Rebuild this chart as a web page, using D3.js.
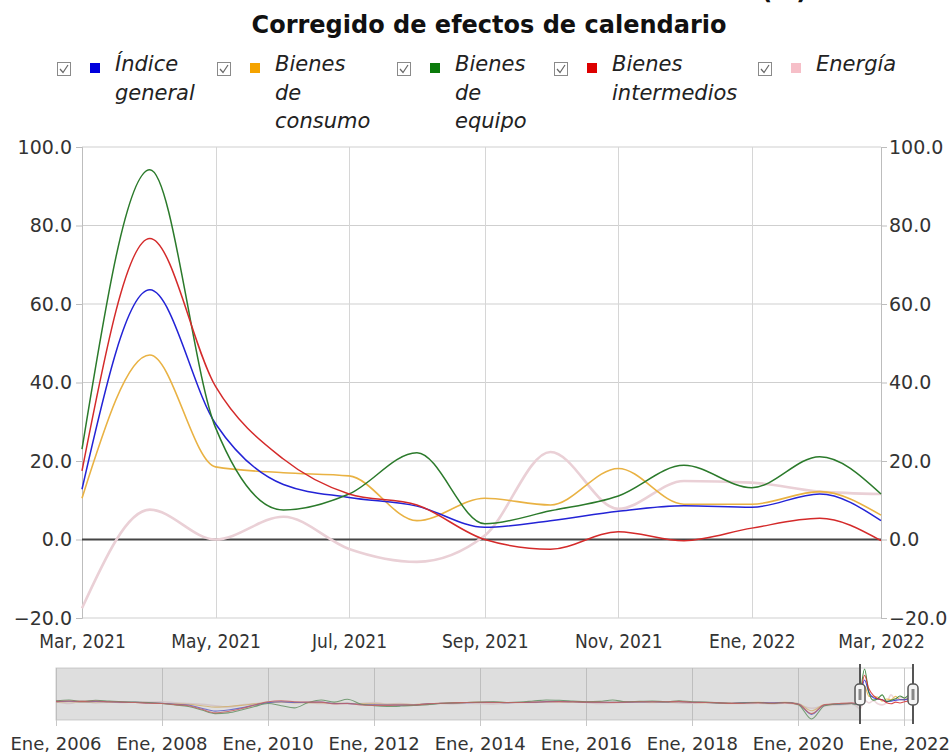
<!DOCTYPE html>
<html><head><meta charset="utf-8">
<script src="https://cdn.jsdelivr.net/npm/d3@7/dist/d3.min.js"></script>
<style>body{margin:0;background:#fff}svg{display:block}</style>
</head><body>
<svg id="c" width="952" height="754"></svg>
<script>
// ---------- DATA ----------
const seriesNames = ["Índice general","Bienes de consumo","Bienes de equipo","Bienes intermedios","Energía"];
const legendLines = [["Índice","general"],["Bienes","de","consumo"],["Bienes","de","equipo"],["Bienes","intermedios"],["Energía"]];
const months = ["2021-03","2021-04","2021-05","2021-06","2021-07","2021-08","2021-09","2021-10","2021-11","2021-12","2022-01","2022-02","2022-03"];
const indiceGeneral     = [12.8, 63.6, 29.5, 14.0, 10.7, 8.5, 3.1, 4.8, 7.2, 8.6, 8.2, 11.6, 4.8];
const bienesConsumo     = [10.5, 47.0, 18.5, 17.0, 16.2, 4.8, 10.5, 8.8, 18.1, 9.0, 9.0, 12.2, 6.2];
const bienesEquipo      = [23.0, 94.2, 28.5, 7.5, 11.6, 22.1, 4.0, 7.3, 11.1, 18.9, 13.2, 21.1, 11.6];
const bienesIntermedios = [17.5, 76.7, 39.0, 20.5, 11.6, 8.8, 0.0, -2.5, 2.0, -0.3, 2.9, 5.4, -0.3];
const energia           = [-17.5, 7.6, 0.0, 5.8, -2.4, -5.7, 1.0, 22.3, 7.8, 14.9, 14.5, 12.2, 11.6];

// history for the navigator (quarterly Ene/Abr/Jul/Oct 2006-2020, then Ene, Feb 2021)
const histDates = [];
["2006","2007","2008","2009","2010","2011","2012","2013","2014","2015","2016","2017","2018","2019","2020"].forEach(yy=>["01","04","07","10"].forEach(m=>histDates.push(yy+"-"+m)));
histDates.push("2021-01","2021-02");
const histGeneral = [3.5,4.5,3.0,4.0, 3.0,2.0,1.5,0.0, -1.0,-4.0,-6.0,-15.0, -23.0,-20.0,-14.0,-6.0, 0.5,3.0,1.0,1.5, 2.5,-2.0,-1.5,-4.5, -5.5,-6.0,-6.5,-6.0, -3.0,-1.5,-0.5,0.5, 1.0,1.5,0.5,1.0, 1.5,3.5,4.0,3.0, 2.0,1.5,1.5,2.0, 2.5,3.0,2.5,3.5, 1.5,1.0,0.0,-1.0, 0.5,1.0,0.0,1.0, -3.0,-32.0,-6.0,-3.5, -1.5,-3.0];
const histConsumo = [2,3,1.5,2.5, 2,1.5,1,0, -1,-3,-4,-8, -12,-10,-7,-3, 0.5,1.5,0,0.5, 0.5,-1.5,-1,-2.5, -3,-4,-4,-4.5, -2.5,-1,0,1, 1.5,2,0.5,1, 1,2.5,3,2, 2,1,2,2.5, 1.5,2,1.5,2.5, 1,0.5,-0.5,-0.5, 1,1.5,0.5,1.5, -2,-22,-5,-4, -2,-3];
const histEquipo = [6,8,4,7, 5,3,2,1, -2,-6,-10,-20, -30,-28,-20,-10, -2,-8,-14,0, 8,2,10,-3, -8,-10,-9,-7, -5,-2,0,1, 2,3,1,2, 5,8,7,5, 3,4,8,3, 4,5,3,6, 3,2,0,-2, 0,1,-2,1, -5,-45,-8,-3, -2,-4];
const histIntermedios = [4,5,4,5, 3,2,1,-1, -2,-5,-8,-18, -28,-24,-16,-6, 3,6,3,2, 2,-3,-2,-6, -7,-7,-6,-6, -3,-1,0,1, 1.5,1,1,1, 2,3,3.5,3, 2,2,1,2, 3,3,3,4, 1.5,1,0,-1.5, -1,0,-1,0, -4,-30,-5,-2, 0,-1];
const histEnergia = [3,-2,5,0, 2,1,3,2, 3,0,-2,-4, -8,-12,-6,-3, 2,4,3,1, -2,-1,-3,-2, 1,-4,-2,-6, -5,-2,-3,-1, -2,-3,-1,1, 1,4,2,3, 1,-2,0,2, 3,1,2,0, -1,2,0,-2, -2,-1,-3,0, -5,-15,-8,-6, -4,-8];

const yTicks = [-20,0,20,40,60,80,100];
const xTickDates = ["2021-03","2021-05","2021-07","2021-09","2021-11","2022-01","2022-03"];
const xTickLabels = ["Mar, 2021","May, 2021","Jul, 2021","Sep, 2021","Nov, 2021","Ene, 2022","Mar, 2022"];
const navTickDates = ["2006-01","2008-01","2010-01","2012-01","2014-01","2016-01","2018-01","2020-01","2022-01"];
const navTickLabels = ["Ene, 2006","Ene, 2008","Ene, 2010","Ene, 2012","Ene, 2014","Ene, 2016","Ene, 2018","Ene, 2020","Ene, 2022"];

// ---------- STYLE ----------
const lineColors = ["#2323d6","#e9b243","#2b7a2b","#d42a2a","#ead0d6"];
const lineWidths = [1.5,1.6,1.5,1.5,2.6];
const swatchColors = ["#0000dd","#f5a300","#0b7a0b","#dd0000","#f6bfc8"];

const parse = d3.timeParse("%Y-%m");
const svg = d3.select("#c");
const allMain = [indiceGeneral,bienesConsumo,bienesEquipo,bienesIntermedios,energia];
const allHist = [histGeneral,histConsumo,histEquipo,histIntermedios,histEnergia];
const mDates = months.map(parse);

// ---------- TITLES ----------
svg.append("text").attr("x",489).attr("y",-1).attr("text-anchor","middle")
  .attr("font-family","DejaVu Sans").attr("font-weight","bold").attr("font-size",24).attr("fill","#111")
  .text("Índice de Producción Industrial. Tasa anual (%)");
svg.append("text").attr("x",489).attr("y",33).attr("text-anchor","middle")
  .attr("font-family","DejaVu Sans").attr("font-weight","bold").attr("font-size",24).attr("fill","#111")
  .text("Corregido de efectos de calendario");

// ---------- LEGEND ----------
const legX = [57,217,397,554,758];
const lg = svg.append("g");
legendLines.forEach((lines,i)=>{
  const g = lg.append("g").attr("transform",`translate(${legX[i]},0)`);
  g.append("rect").attr("x",0.5).attr("y",62.5).attr("width",13).attr("height",13).attr("fill","#fff").attr("stroke","#8a8a8a");
  g.append("path").attr("d","M3,69 L6,72.5 L11,65").attr("fill","none").attr("stroke","#666").attr("stroke-width",1.2);
  g.append("rect").attr("x",33).attr("y",63).attr("width",10).attr("height",10).attr("fill",swatchColors[i]);
  lines.forEach((t,j)=>{
    g.append("text").attr("x",58).attr("y",71+j*28.5)
      .attr("font-family","DejaVu Sans").attr("font-style","italic").attr("font-size",21).attr("fill","#222").text(t);
  });
});

// ---------- MAIN CHART ----------
const L=82, R=881, T=147, B=618;
const x = d3.scaleTime().domain([mDates[0], mDates[mDates.length-1]]).range([L,R]);
const y = d3.scaleLinear().domain([-20,100]).range([B,T]);

const grid = svg.append("g");
yTicks.forEach(v=>{
  grid.append("line").attr("x1",L).attr("x2",R).attr("y1",y(v)).attr("y2",y(v)).attr("stroke","#cfcfcf");
});
xTickDates.forEach(d=>{
  const xx = Math.round(x(parse(d)))+0.5;
  grid.append("line").attr("x1",xx).attr("x2",xx).attr("y1",T).attr("y2",B).attr("stroke","#d6d6d6");
});
// axes
const ya = svg.append("g").attr("transform",`translate(${L},0)`)
  .call(d3.axisLeft(y).tickValues(yTicks).tickSize(6).tickFormat(d3.format(".1f")));
const yb = svg.append("g").attr("transform",`translate(${R},0)`)
  .call(d3.axisRight(y).tickValues(yTicks).tickSize(6).tickFormat(d3.format(".1f")));
[ya,yb].forEach(a=>{
  a.select(".domain").attr("stroke","#bdbdbd");
  a.selectAll(".tick line").attr("stroke","#bdbdbd");
  a.selectAll("text").attr("font-family","DejaVu Sans").attr("font-size",19).attr("fill","#333");
});
ya.selectAll("text").attr("x",-10);
yb.selectAll("text").attr("x",8);

const xa = svg.append("g").attr("transform",`translate(0,${B})`)
  .call(d3.axisBottom(x).tickValues(xTickDates.map(parse)).tickSize(0).tickFormat((d,i)=>xTickLabels[i]));
xa.select(".domain").remove();
xa.selectAll("text").attr("font-family","DejaVu Sans Condensed, DejaVu Sans").attr("font-stretch","condensed")
  .attr("font-size",19).attr("fill","#333").attr("y",30).attr("dy",0);

// zero line
svg.append("line").attr("x1",L).attr("x2",R).attr("y1",y(0)).attr("y2",y(0)).attr("stroke","#444").attr("stroke-width",2);

const line = d3.line().x((d,i)=>x(mDates[i])).y(d=>y(d)).curve(d3.curveMonotoneX);
const drawOrder = [4,1,0,2,3];
drawOrder.forEach(k=>{
  svg.append("path").datum(allMain[k]).attr("d",line).attr("fill","none")
    .attr("stroke",lineColors[k]).attr("stroke-width",lineWidths[k]);
});

// ---------- NAVIGATOR ----------
const NL=56, NR=913, NT=668, NB=720;
const navDates = histDates.map(parse).concat(mDates);
const navSeries = allHist.map((h,k)=>h.concat(allMain[k]));
const nx = d3.scaleTime().domain([navDates[0], navDates[navDates.length-1]]).range([NL,NR]);
const ny = d3.scaleLinear().domain(d3.extent(navSeries.flat())).range([NB-1,NT+1]);
const ng = svg.append("g");
ng.append("rect").attr("x",NL).attr("y",NT).attr("width",NR-NL).attr("height",NB-NT).attr("fill","#fff").attr("stroke","#d0d0d0");
navTickDates.forEach(d=>{
  const xx = Math.round(nx(parse(d)))+0.5;
  ng.append("line").attr("x1",xx).attr("x2",xx).attr("y1",NT).attr("y2",NB+6).attr("stroke","#c8c8c8");
});
const nline = d3.line().x((d,i)=>nx(navDates[i])).y(d=>ny(d)).curve(d3.curveMonotoneX);
drawOrder.forEach(k=>{
  ng.append("path").datum(navSeries[k]).attr("d",nline).attr("fill","none")
    .attr("stroke",lineColors[k]).attr("stroke-width",k===4?1.6:1.1).attr("opacity",0.85);
});
const selL = nx(mDates[0]), selR = nx(mDates[mDates.length-1]);
ng.append("rect").attr("x",NL).attr("y",NT).attr("width",selL-NL).attr("height",NB-NT).attr("fill","#b0b0b0").attr("opacity",0.42);
[selL, selR].forEach(hx=>{
  ng.append("line").attr("x1",hx).attr("x2",hx).attr("y1",NT-4).attr("y2",NB+4).attr("stroke","#555").attr("stroke-width",2);
  ng.append("rect").attr("x",hx-5).attr("y",684).attr("width",10).attr("height",21).attr("rx",4)
    .attr("fill","#f4f4f4").attr("stroke","#555").attr("stroke-width",1.5);
  ng.append("rect").attr("x",hx-1.5).attr("y",689).attr("width",3).attr("height",11).attr("fill","#888");
});
navTickDates.forEach((d,i)=>{
  ng.append("text").attr("x",nx(parse(d))).attr("y",750).attr("text-anchor","middle")
    .attr("font-family","DejaVu Sans").attr("font-size",18).attr("fill","#333").text(navTickLabels[i]);
});
</script>
</body></html>
